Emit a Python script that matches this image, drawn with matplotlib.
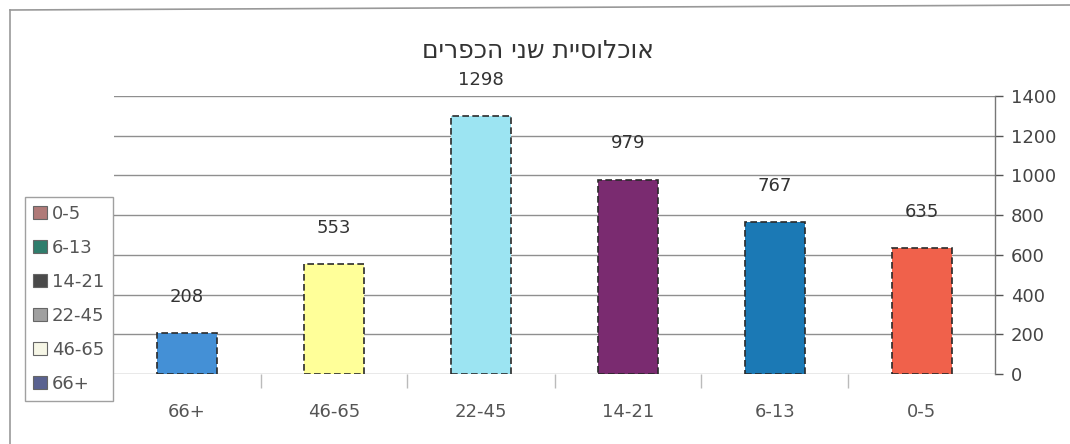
import matplotlib
matplotlib.use("Agg")
import matplotlib.pyplot as plt
from matplotlib.patches import Patch
from matplotlib.lines import Line2D

plt.rcParams['font.family'] = ['DejaVu Sans']

# ---- data ----
categories = ["66+", "46-65", "22-45", "14-21", "6-13", "0-5"]
values = [208, 553, 1298, 979, 767, 635]
bar_colors = ["#4490d6", "#ffff99", "#9ce4f2", "#7a2b70", "#1b79b5", "#f0614b"]
legend_labels = ["0-5", "6-13", "14-21", "22-45", "46-65", "66+"]
legend_colors = ["#b07a78", "#2f7d6c", "#4a4a4a", "#a0a0a0", "#f6f6e6", "#5a6290"]
yticks = [0, 200, 400, 600, 800, 1000, 1200, 1400]
title = "אוכלוסיית שני הכפרים"

W, H = 1070, 444
fig = plt.figure(figsize=(W / 100, H / 100), dpi=100)
fig.patch.set_facecolor("white")

ax = fig.add_axes([113.5 / W, 1 - 374 / H, (995.5 - 113.5) / W, (374 - 96) / H])
ax.set_facecolor("none")

x = list(range(len(categories)))
bars = ax.bar(x, values, width=0.41, color=bar_colors, edgecolor="#2a2a2a",
              linewidth=1.2, linestyle=(0, (4, 2)), zorder=3)

for xi, v in zip(x, values):
    ax.annotate(str(v), (xi, v), xytext=(0, 26), textcoords="offset points",
                ha="center", va="center", fontsize=13, color="#333333")

ax.set_xlim(-0.5, len(categories) - 0.5)
ax.set_ylim(0, 1400)

ax.yaxis.tick_right()
ax.set_yticks(yticks)
ax.set_yticklabels([str(t) for t in yticks])
ax.tick_params(axis="y", colors="#555555", labelsize=13, length=6, width=1,
               pad=5, labelcolor="#444444")
ax.yaxis.grid(True, color="#8f8f8f", linewidth=1)
ax.set_axisbelow(True)

ax.set_xticks(x)
ax.set_xticklabels(categories)
ax.tick_params(axis="x", which="major", length=0, pad=21, labelsize=13,
               labelcolor="#555555")
ax.set_xticks([i + 0.5 for i in x[:-1]], minor=True)
ax.tick_params(axis="x", which="minor", length=10, width=1, color="#bbbbbb")

for s in ["top", "left", "bottom"]:
    ax.spines[s].set_visible(False)
ax.spines["right"].set_color("#777777")
ax.spines["right"].set_linewidth(1)

# title (RTL display order: reverse logical string for left-to-right layout)
fig.text(538 / W, 1 - 51 / H, title[::-1], ha="center", va="center",
         fontsize=18, color="#333333")

# legend
handles = [Patch(facecolor=c, edgecolor="#666666", linewidth=0.8) for c in legend_colors]
leg = fig.legend(handles, legend_labels, loc="upper left",
                 bbox_to_anchor=(25 / W, 1 - 197 / H), bbox_transform=fig.transFigure,
                 prop={"size": 13}, frameon=True, fancybox=False, borderpad=0.45,
                 handlelength=0.75, handleheight=0.75, handletextpad=0.3,
                 labelspacing=0.88, borderaxespad=0)
leg.get_frame().set_edgecolor("#888888")
leg.get_frame().set_linewidth(1)
for t in leg.get_texts():
    t.set_color("#555555")

# outer frame (top and left)
fig.add_artist(Line2D([10 / W, 1.0], [1 - 10 / H, 1 - 5 / H], color="#999999",
                      linewidth=1.2, transform=fig.transFigure))
fig.add_artist(Line2D([10 / W, 10 / W], [1 - 10 / H, 0], color="#999999",
                      linewidth=1.2, transform=fig.transFigure))

fig.savefig("out.png", dpi=100, facecolor="white")
